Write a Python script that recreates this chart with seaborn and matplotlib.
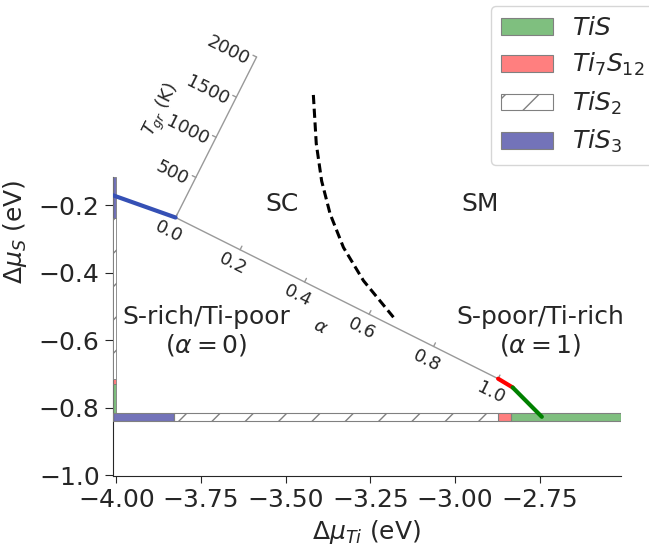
import numpy as np
import matplotlib
matplotlib.use('Agg')
import matplotlib.pyplot as plt
from matplotlib.colors import to_rgba
import seaborn as sns

# axis limits (eV)
x_range = (-4.01, -2.51)
y_range = (-1.004, -0.115)
x_ticks = [-4.00, -3.75, -3.50, -3.25, -3.00, -2.75]
y_ticks = [-1.0, -0.8, -0.6, -0.4, -0.2]

# stable phases, bottom bar (d mu_Ti) and left bar (d mu_S)
phase_labels = ['$TiS$', '$Ti_7S_{12}$', '$TiS_2$', '$TiS_3$']
bar_left = [-2.834, -2.873, -3.83, -4.01]
bar_right = [-2.51, -2.834, -2.873, -3.83]
vbar_bottom = [-0.816, -0.730, -0.714, -0.236]
vbar_top = [-0.730, -0.714, -0.236, -0.115]
bar_y = -0.827

# phase boundary segments
tis3_x = [-4.01, -3.825]
tis3_y = [-0.170, -0.236]
ti7s12_x = [-2.873, -2.830]
ti7s12_y = [-0.714, -0.740]
tis_x = [-2.830, -2.744]
tis_y = [-0.740, -0.827]

# alpha axis runs along the TiS2 line
alpha_start = (-3.825, -0.236)
alpha_end = (-2.873, -0.714)
alpha_ticks = [0.0, 0.2, 0.4, 0.6, 0.8, 1.0]
T_ticks = [500, 1000, 1500, 2000]
T_max = 2000

# SC / SM boundary in (alpha, T_gr)
bound_alpha = [0.188, 0.256, 0.316, 0.378, 0.453, 0.544, 0.664]
bound_T = [1905, 1435, 1090, 805, 537, 306, 91]

sns.set_style('ticks')
plt.rcParams['font.family'] = ['DejaVu Sans']
plt.rcParams['font.size'] = 18
plt.rcParams['xtick.major.size'] = 5
plt.rcParams['ytick.major.size'] = 6

fig = plt.figure(figsize=(6.49, 5.48), dpi=100)
ax = fig.add_axes([0.174, 0.1305, 0.783, 0.547])
ax.set_xlim(x_range)
ax.set_ylim(y_range)

bar_face = [to_rgba('green', 0.5), to_rgba('red', 0.5), 'white', to_rgba('navy', 0.55)]
bar_hatch = [None, None, '/', None]
line_col = ['green', 'red', None, '#3550b5']

handles = []
for i in range(4):
    h = ax.barh(bar_y, bar_right[i] - bar_left[i], left=bar_left[i], height=0.022,
                color=bar_face[i], edgecolor='gray', linewidth=0.8, hatch=bar_hatch[i],
                label=phase_labels[i], zorder=3)
    handles.append(h)
    ax.bar(-4.0052, vbar_top[i] - vbar_bottom[i], bottom=vbar_bottom[i], width=0.0105,
           color=bar_face[i], edgecolor='gray', linewidth=0.6, hatch=bar_hatch[i],
           zorder=3)

# phase boundaries
sns.lineplot(x=tis3_x, y=tis3_y, color=line_col[3], lw=3, ax=ax, sort=False,
             legend=False, zorder=4)
sns.lineplot(x=ti7s12_x, y=ti7s12_y, color='red', lw=3, ax=ax, sort=False,
             legend=False, zorder=4)
sns.lineplot(x=tis_x, y=tis_y, color='green', lw=3, ax=ax, sort=False,
             legend=False, zorder=4)

# inset (alpha, T_gr) coordinate system
O = np.array(alpha_start)
d = np.array(alpha_end) - O
n = np.array([-d[1], d[0]])


def to_mu(a, T):
    a = np.atleast_1d(np.asarray(a, dtype=float))
    T = np.atleast_1d(np.asarray(T, dtype=float))
    p = O[:, None] + np.outer(d, a) + np.outer(n, 0.5 * T / T_max)
    return p[0], p[1]


p0 = ax.transData.transform(alpha_start)
p1 = ax.transData.transform(alpha_end)
ang = np.degrees(np.arctan2(p1[1] - p0[1], p1[0] - p0[0]))

gx, gy = to_mu([0, 1], [0, 0])
ax.plot(gx, gy, color='#999999', lw=1, zorder=2, clip_on=False)
gx, gy = to_mu([0, 0], [0, T_max])
ax.plot(gx, gy, color='#999999', lw=1, zorder=2, clip_on=False)

for a in alpha_ticks:
    tx, ty = to_mu([a, a], [0, 45])
    ax.plot(tx, ty, color='#999999', lw=1, clip_on=False)
    lx, ly = to_mu(a, -178)
    ax.text(lx[0], ly[0], f'{a:.1f}', fontsize=13, rotation=ang,
            ha='center', va='center', rotation_mode='anchor')
for T in T_ticks:
    tx, ty = to_mu([0, -0.011], [T, T])
    ax.plot(tx, ty, color='#999999', lw=1, clip_on=False)
    lx, ly = to_mu(-0.017, T - 75)
    ax.text(lx[0], ly[0], f'{T}', fontsize=13, rotation=ang,
            ha='right', va='center', rotation_mode='anchor')

lx, ly = to_mu(0.495, -372)
ax.text(lx[0], ly[0], r'$\alpha$', fontsize=13, rotation=ang, ha='center', va='center',
        rotation_mode='anchor')
lx, ly = to_mu(-0.168, 1000)
ax.text(lx[0], ly[0], '$T_{gr}$ (K)', fontsize=13, rotation=ang + 90, ha='center',
        va='center', rotation_mode='anchor')

bx, by = to_mu(bound_alpha, bound_T)
sns.lineplot(x=bx, y=by, color='black', lw=2.2, ls=(0, (3, 1.5)), ax=ax, sort=False,
             estimator=None, legend=False, clip_on=False, zorder=4)

# region labels
ax.text(-3.512, -0.196, 'SC', ha='center', va='center', fontsize=18)
ax.text(-2.926, -0.196, 'SM', ha='center', va='center', fontsize=18)
ax.text(-3.734, -0.574, 'S-rich/Ti-poor\n($\\alpha = 0$)', ha='center', va='center',
        multialignment='center', fontsize=18, linespacing=1.1)
ax.text(-2.748, -0.574, 'S-poor/Ti-rich\n($\\alpha = 1$)', ha='center', va='center',
        multialignment='center', fontsize=18, linespacing=1.1)

ax.set_xticks(x_ticks)
ax.set_xticklabels([f'{v:.2f}'.replace('-', '\u2212') for v in x_ticks])
ax.set_yticks(y_ticks)
ax.set_yticklabels([f'{v:.1f}'.replace('-', '\u2212') for v in y_ticks])
ax.set_xlabel(r'$\Delta\mu_{Ti}$ (eV)')
ax.set_ylabel(r'$\Delta\mu_S$ (eV)')
ax.yaxis.set_label_coords(-0.165, 0.815)
sns.despine(ax=ax)

fig.legend(handles=handles, loc='upper right', bbox_to_anchor=(1.008, 0.989),
           borderaxespad=0, fontsize=18, handlelength=2.1, handleheight=0.65,
           handletextpad=0.74, labelspacing=0.45, borderpad=0.4)

fig.savefig('out.png', dpi=100)
